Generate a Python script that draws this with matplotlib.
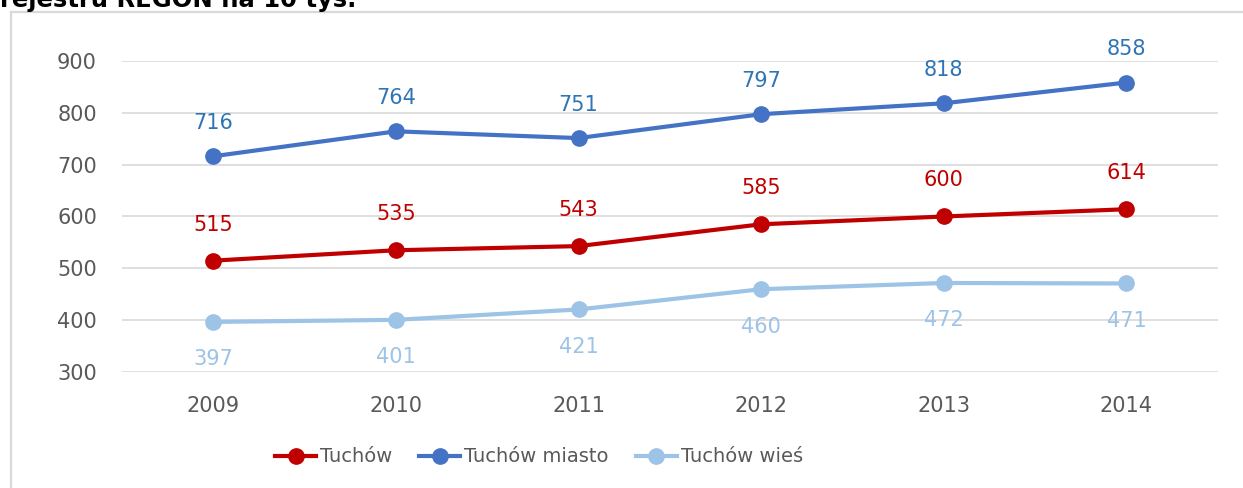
import matplotlib
matplotlib.use("Agg")
import matplotlib.pyplot as plt
from matplotlib.lines import Line2D

years = ["2009", "2010", "2011", "2012", "2013", "2014"]
tuchow = [515, 535, 543, 585, 600, 614]
tuchow_miasto = [716, 764, 751, 797, 818, 858]
tuchow_wies = [397, 401, 421, 460, 472, 471]
series_names = ["Tuchów", "Tuchów miasto", "Tuchów wieś"]
yticks = [300, 400, 500, 600, 700, 800, 900]
title_text = "rejestru REGON na 10 tys."

W, H = 1243, 488
fig = plt.figure(figsize=(W / 100, H / 100), dpi=100)
fig.patch.set_facecolor("white")

def fx(px):
    return px / W

def fy(py):
    return 1 - py / H

ax = fig.add_axes([fx(122), fy(372.3), fx(1217.7) - fx(122), fy(60.7) - fy(372.3)])
ax.set_xlim(-0.5, len(years) - 0.5)
ax.set_ylim(300, 900)
ax.set_yticks(yticks)
ax.set_xticks(range(len(years)))
ax.set_xticklabels(years)
for s in ax.spines.values():
    s.set_visible(False)
ax.grid(axis="y", color="#d9d9d9", linewidth=1.2)
ax.set_axisbelow(True)
ax.tick_params(axis="both", length=0, labelsize=15, labelcolor="#595959")
ax.tick_params(axis="y", pad=18)
ax.tick_params(axis="x", pad=17)

colors = ["#c00000", "#4472c4", "#9dc3e6"]
label_colors = ["#c00000", "#2e75b6", "#9dc3e6"]
data = [tuchow, tuchow_miasto, tuchow_wies]
offsets = [26, 24, -27]
x = list(range(len(years)))
handles = []
for vals, c, lc, off, name in zip(data, colors, label_colors, offsets, series_names):
    ax.plot(x, vals, color=c, linewidth=3, marker="o", markersize=11,
            solid_capstyle="round", zorder=3)
    for xi, v in zip(x, vals):
        ax.annotate(str(v), (xi, v), xytext=(0, off), textcoords="offset points",
                    ha="center", va="center", fontsize=15, color=lc)
    handles.append(Line2D([], [], color=c, linewidth=3, marker="o", markersize=11,
                          label=name))

fig.legend(handles=handles, loc="center", bbox_to_anchor=(fx(539), fy(457)),
           ncol=3, frameon=False, fontsize=14, handlelength=2.1,
           handletextpad=0.2, columnspacing=1.4, labelcolor="#595959")

# chart frame (left and top edges visible)
fig.add_artist(Line2D([fx(11), fx(11)], [fy(12), 0], transform=fig.transFigure,
                      color="#d9d9d9", linewidth=1.6))
fig.add_artist(Line2D([fx(11), 1], [fy(12), fy(12)], transform=fig.transFigure,
                      color="#d9d9d9", linewidth=1.6))

fig.text(0, fy(7.5), title_text, fontsize=17.5, fontweight="bold", color="black",
         ha="left", va="baseline")

fig.savefig("out.png", dpi=100)
